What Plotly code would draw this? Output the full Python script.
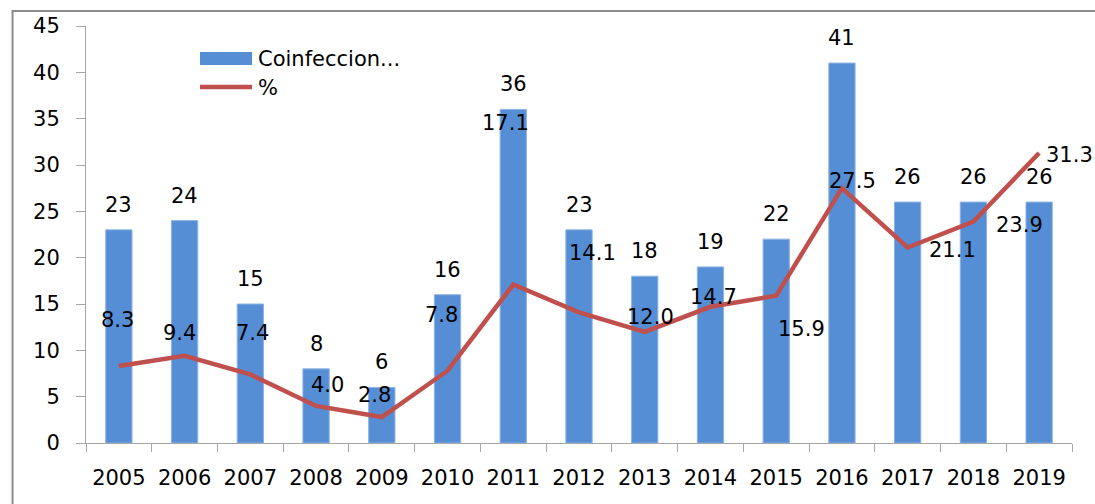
import plotly.graph_objects as go

years = ["2005", "2006", "2007", "2008", "2009", "2010", "2011", "2012",
         "2013", "2014", "2015", "2016", "2017", "2018", "2019"]
coinfeccion = [23, 24, 15, 8, 6, 16, 36, 23, 18, 19, 22, 41, 26, 26, 26]
percent = [8.3, 9.4, 7.4, 4.0, 2.8, 7.8, 17.1, 14.1, 12.0, 14.7, 15.9, 27.5, 21.1, 23.9, 31.3]

# label offsets (pixels) for the % labels, relative to each point
pct_dx = [-1, -5, 2, 11, -7, -6, -8, 13, 6, 3, 25, 11, 45, 46, 30]
pct_dy = [46, 23, 41, 21, 22, 56, 162, 59, 15, 10, -33, 7, -3, -3, -2]

BAR = "#558ED5"
LINE = "#C0504D"
FONT = "DejaVu Sans"
FS = 21
TXT = "#000000"
AX = "#A6A6A6"

fig = go.Figure()
fig.add_trace(go.Bar(x=years, y=coinfeccion, name="Coinfeccion...",
                     marker=dict(color=BAR, line=dict(color="#8DB3E2", width=1)),
                     showlegend=False))
fig.add_trace(go.Scatter(x=years, y=percent, name="%", mode="lines",
                         line=dict(color=LINE, width=4.5),
                         showlegend=False))

ann = []
for i, v in enumerate(coinfeccion):
    ann.append(dict(x=i, y=v, text=str(v), showarrow=False, yshift=25,
                    xanchor="center", yanchor="middle",
                    font=dict(family=FONT, size=FS, color=TXT)))
for i, (v, dx, dy) in enumerate(zip(percent, pct_dx, pct_dy)):
    ann.append(dict(x=i, y=v, text=f"{v:.1f}", showarrow=False,
                    xshift=dx, yshift=dy, xanchor="center", yanchor="middle",
                    font=dict(family=FONT, size=FS, color=TXT)))

# manual legend
ann.append(dict(xref="paper", yref="paper", x=0.1725, y=0.922, text="Coinfeccion...",
                showarrow=False, xanchor="left", yanchor="middle",
                font=dict(family=FONT, size=FS, color=TXT)))
ann.append(dict(xref="paper", yref="paper", x=0.1725, y=0.852, text="%",
                showarrow=False, xanchor="left", yanchor="middle",
                font=dict(family=FONT, size=FS, color=TXT)))

shapes = [
    dict(type="rect", xref="paper", yref="paper", x0=0.1156, x1=0.1684,
         y0=0.9065, y1=0.9376, fillcolor=BAR, line=dict(width=0)),
    dict(type="line", xref="paper", yref="paper", x0=0.1156, x1=0.1684,
         y0=0.8537, y1=0.8537, line=dict(color=LINE, width=4.5)),
    # outer chart frame
    dict(type="rect", xref="paper", yref="paper", x0=-0.0745, x1=1.2,
         y0=-0.5, y1=1.036, line=dict(color="#8C8C8C", width=2),
         fillcolor="rgba(0,0,0,0)", layer="below"),
]

fig.update_layout(
    width=1095, height=504,
    margin=dict(l=86, r=23, t=26, b=61),
    plot_bgcolor="white", paper_bgcolor="white",
    bargap=0.6,
    annotations=ann, shapes=shapes,
    font=dict(family=FONT, size=FS, color=TXT),
)
fig.update_xaxes(type="category", range=[-0.5, len(years) - 0.5],
                 showline=True, linecolor=AX, linewidth=1,
                 ticks="outside", ticklen=8, tickcolor=AX, tickson="boundaries",
                 showgrid=False, tickangle=0,
                 tickfont=dict(family=FONT, size=FS, color=TXT),
                 ticklabelstandoff=16)
fig.update_yaxes(range=[0, 45], dtick=5, showline=True, linecolor=AX, linewidth=1,
                 ticks="outside", ticklen=9, tickcolor=AX, showgrid=False,
                 zeroline=False, tickfont=dict(family=FONT, size=FS, color=TXT),
                 ticklabelstandoff=12)

fig.write_html("out.html")
